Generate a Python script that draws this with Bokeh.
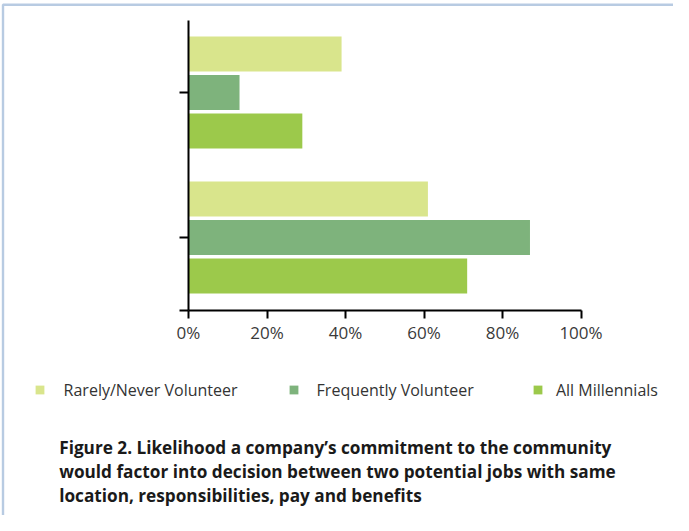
from bokeh.plotting import figure
from bokeh.models import (Range1d, LinearAxis, FixedTicker, ColumnDataSource, Legend,
                          LegendItem, Label, BoxAnnotation, CustomJSTickFormatter,
                          PrintfTickFormatter)
from bokeh.transform import dodge
from bokeh.embed import file_html
from bokeh.resources import INLINE

# ---- data -------------------------------------------------------------
groups = ["Would factor", "Would not factor"]          # bottom group, top group
group_pos = [0.5, 1.5]
rarely_never = [61, 39]
frequently = [87, 13]
all_millennials = [71, 29]
series_names = ["Rarely/Never Volunteer", "Frequently Volunteer", "All Millennials"]
x_ticks = [0, 20, 40, 60, 80, 100]
caption_lines = [
    "Figure 2. Likelihood a company\u2019s commitment to the community",
    "would factor into decision between two potential jobs with same",
    "location, responsibilities, pay and benefits",
]

# ---- styles / geometry -------------------------------------------------
series_colors = ["#d9e58c", "#7eb37c", "#9cc94b"]
W, H = 673, 515
X0, XS = 188.0, 3.925      # canvas px of 0 %, px per percent
Y0, YS = 309.5, 145.0      # canvas px of y=0, px per group unit
FONT = "Open Sans"

p = figure(width=W, height=H, output_backend="svg", toolbar_location=None, title=None,
           x_range=Range1d(-X0 / XS, (W - X0) / XS),
           y_range=Range1d(-(H - Y0) / YS, Y0 / YS),
           x_axis_location=None, y_axis_location=None,
           min_border=0, min_border_left=0, min_border_right=0,
           min_border_top=0, min_border_bottom=0)
p.grid.visible = False
p.outline_line_color = None
p.background_fill_color = "white"
p.border_fill_color = "white"

src = ColumnDataSource(dict(pos=group_pos, r=rarely_never, f=frequently, a=all_millennials))
offsets = [0.265, 0.0, -0.265]
renderers = []
for col, off, color in zip(["r", "f", "a"], offsets, series_colors):
    r = p.hbar(y=dodge("pos", off), left=0, right=col, height=0.241, source=src,
               fill_color=color, line_color=None)
    renderers.append(r)

xaxis = LinearAxis(fixed_location=0, bounds=(0, 100), ticker=FixedTicker(ticks=x_ticks),
                   formatter=PrintfTickFormatter(format="%d%%"))
xaxis.axis_line_color = "black"
xaxis.axis_line_width = 2
xaxis.major_tick_line_color = "black"
xaxis.major_tick_line_width = 2
xaxis.major_tick_out = 8
xaxis.major_tick_in = 0
xaxis.minor_tick_out = 0
xaxis.minor_tick_in = 0
xaxis.major_label_standoff = 3
xaxis.major_label_text_font = FONT
xaxis.major_label_text_font_size = "17px"
xaxis.major_label_text_color = "#3a3a3a"
p.add_layout(xaxis, "below")

yaxis = LinearAxis(fixed_location=0, bounds=(0, 2), ticker=FixedTicker(ticks=[0, 0.5, 1.5]),
                   formatter=CustomJSTickFormatter(code="return ''"))
yaxis.axis_line_color = "black"
yaxis.axis_line_width = 2
yaxis.major_tick_line_color = "black"
yaxis.major_tick_line_width = 2
yaxis.major_tick_out = 9
yaxis.major_tick_in = 0
yaxis.minor_tick_out = 0
yaxis.minor_tick_in = 0
p.add_layout(yaxis, "left")

# legends (one per item so each can sit at its own spot)
leg_x = [33.6, 287.6, 531.9]
leg_standoff = [19, 18, 13]
for r, name, lx, so in zip(renderers, series_names, leg_x, leg_standoff):
    lg = Legend(items=[LegendItem(label=name, renderers=[r])], location=(lx, 114.5),
                orientation="horizontal", padding=0, margin=0, spacing=0,
                glyph_width=11, glyph_height=11, label_standoff=so,
                label_text_font=FONT, label_text_font_size="16px",
                label_text_color="#333333", label_text_baseline="alphabetic",
                border_line_color=None, background_fill_alpha=0)
    p.add_layout(lg)

for i, line in enumerate(caption_lines):
    p.add_layout(Label(x=58.7, y=H - 446.5 - 24 * i, x_units="screen", y_units="screen",
                       text=line, text_font=FONT, text_font_style="bold",
                       text_font_size="17.2px", text_color="#1a1a1a",
                       text_baseline="alphabetic"))

p.add_layout(BoxAnnotation(left=2.5, right=W + 60, top=H - 4.2, bottom=-60,
                           left_units="screen", right_units="screen",
                           top_units="screen", bottom_units="screen",
                           fill_color=None, fill_alpha=0,
                           line_color="#1552a0", line_width=2.4))

open("out.html", "w").write(file_html(p, INLINE))
